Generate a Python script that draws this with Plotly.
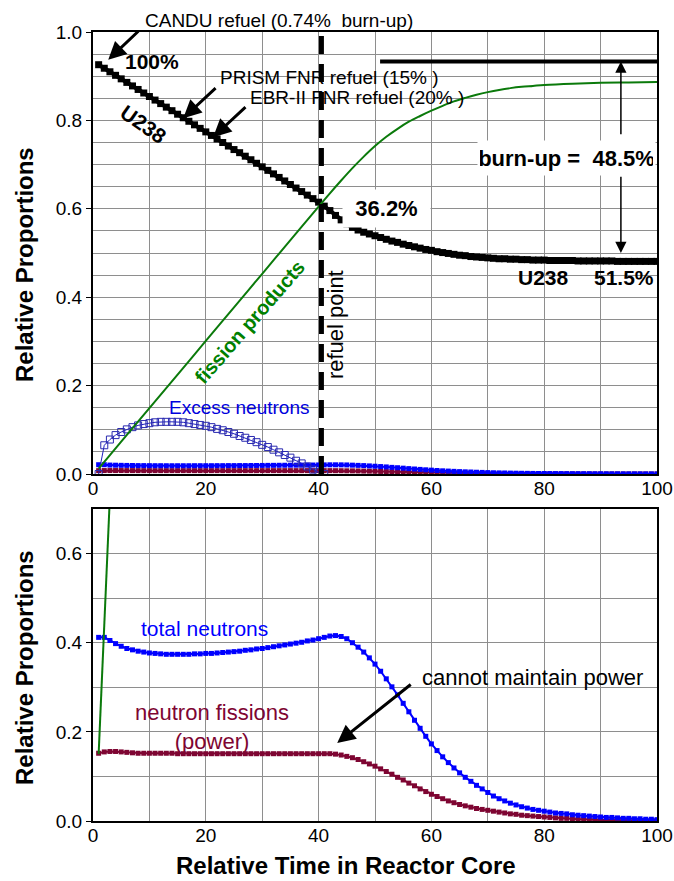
import plotly.graph_objects as go

# ---------------- data ----------------
t = list(range(1, 101))

u238 = [0.926, 0.918, 0.910, 0.902, 0.894, 0.886, 0.878, 0.870, 0.862, 0.854,
        0.846, 0.838, 0.830, 0.822, 0.814, 0.806, 0.798, 0.790, 0.782, 0.774,
        0.766, 0.758, 0.750, 0.742, 0.734, 0.727, 0.719, 0.711, 0.703, 0.695,
        0.687, 0.679, 0.671, 0.663, 0.655, 0.647, 0.639, 0.631, 0.623, 0.615,
        0.606, 0.596, 0.585, 0.575, 0.566, 0.558, 0.552, 0.547, 0.543, 0.539,
        0.535, 0.531, 0.527, 0.524, 0.520, 0.517, 0.514, 0.511, 0.508, 0.506,
        0.503, 0.501, 0.499, 0.497, 0.495, 0.494, 0.492, 0.491, 0.490, 0.489,
        0.488, 0.487, 0.487, 0.486, 0.486, 0.485, 0.485, 0.484, 0.484, 0.484,
        0.483, 0.483, 0.483, 0.483, 0.483, 0.482, 0.482, 0.482, 0.482, 0.482,
        0.482, 0.482, 0.481, 0.481, 0.481, 0.481, 0.481, 0.481, 0.481, 0.481]

fp_t = [1, 5, 10, 15, 20, 25, 30, 35, 40, 42, 44, 46, 48, 50, 52, 54, 56, 58,
        60, 62, 64, 66, 68, 70, 72, 74, 76, 78, 80, 85, 90, 95, 100]
fission_products = [0.012, 0.073, 0.149, 0.225, 0.301, 0.377, 0.453, 0.529,
                    0.605, 0.635, 0.664, 0.692, 0.718, 0.742, 0.763, 0.781,
                    0.797, 0.810, 0.822, 0.833, 0.843, 0.851, 0.858, 0.864,
                    0.869, 0.873, 0.876, 0.878, 0.880, 0.883, 0.885, 0.886,
                    0.887]

ex_t = list(range(1, 42))
excess_neutrons = [0.000, 0.065, 0.078, 0.088, 0.095, 0.101, 0.106, 0.110,
                   0.113, 0.115, 0.117, 0.118, 0.118, 0.118, 0.118, 0.117,
                   0.115, 0.113, 0.111, 0.109, 0.106, 0.102, 0.099, 0.095,
                   0.091, 0.086, 0.082, 0.077, 0.072, 0.066, 0.061, 0.055,
                   0.049, 0.043, 0.037, 0.030, 0.024, 0.017, 0.010, 0.004,
                   0.000]

neutrons_small = [0.0210, 0.0210, 0.0202, 0.0199, 0.0196, 0.0194, 0.0192, 0.0190, 0.0190, 0.0189,
                  0.0188, 0.0188, 0.0187, 0.0187, 0.0187, 0.0187, 0.0187, 0.0188, 0.0188, 0.0188,
                  0.0188, 0.0189, 0.0189, 0.0190, 0.0190, 0.0191, 0.0191, 0.0192, 0.0193, 0.0194,
                  0.0195, 0.0196, 0.0197, 0.0198, 0.0199, 0.0200, 0.0201, 0.0202, 0.0203, 0.0205,
                  0.0206, 0.0208, 0.0208, 0.0207, 0.0205, 0.0200, 0.0195, 0.0190, 0.0183, 0.0176,
                  0.0168, 0.0160, 0.0150, 0.0142, 0.0132, 0.0122, 0.0113, 0.0104, 0.0095, 0.0087,
                  0.0079, 0.0072, 0.0066, 0.0060, 0.0054, 0.0049, 0.0045, 0.0040, 0.0036, 0.0032,
                  0.0028, 0.0025, 0.0023, 0.0020, 0.0018, 0.0016, 0.0015, 0.0013, 0.0012, 0.0011,
                  0.0010, 0.0009, 0.0009, 0.0008, 0.0007, 0.0007, 0.0006, 0.0006, 0.0005, 0.0005,
                  0.0004, 0.0004, 0.0004, 0.0003, 0.0003, 0.0003, 0.0003, 0.0002, 0.0002, 0.0002]

fissions_small = [0.0076, 0.0078, 0.0078, 0.0078, 0.0078, 0.0077, 0.0077, 0.0076, 0.0076, 0.0076,
                  0.0076, 0.0076, 0.0076, 0.0076, 0.0076, 0.0076, 0.0076, 0.0076, 0.0076, 0.0076,
                  0.0076, 0.0076, 0.0076, 0.0076, 0.0076, 0.0076, 0.0076, 0.0076, 0.0076, 0.0076,
                  0.0076, 0.0076, 0.0076, 0.0076, 0.0076, 0.0076, 0.0076, 0.0076, 0.0076, 0.0076,
                  0.0076, 0.0076, 0.0075, 0.0074, 0.0072, 0.0071, 0.0069, 0.0066, 0.0064, 0.0061,
                  0.0058, 0.0055, 0.0052, 0.0049, 0.0046, 0.0042, 0.0039, 0.0036, 0.0033, 0.0030,
                  0.0027, 0.0025, 0.0022, 0.0020, 0.0018, 0.0017, 0.0015, 0.0014, 0.0013, 0.0012,
                  0.0011, 0.0010, 0.0009, 0.0008, 0.0007, 0.0007, 0.0006, 0.0005, 0.0005, 0.0004,
                  0.0004, 0.0003, 0.0003, 0.0003, 0.0002, 0.0002, 0.0002, 0.0002, 0.0001, 0.0001,
                  0.0001, 0.0001, 0.0001, 0.0001, 0.0001, 0.0001, 0.0001, 0.0001, 0.0001, 0.0001]

total_neutrons = [0.412, 0.412, 0.405, 0.398, 0.392, 0.387, 0.384, 0.381, 0.379, 0.377,
                  0.376, 0.375, 0.374, 0.374, 0.374, 0.374, 0.374, 0.375, 0.375, 0.376,
                  0.376, 0.377, 0.378, 0.379, 0.380, 0.381, 0.383, 0.384, 0.386, 0.387,
                  0.389, 0.391, 0.393, 0.395, 0.397, 0.399, 0.401, 0.404, 0.406, 0.409,
                  0.412, 0.415, 0.416, 0.414, 0.409, 0.400, 0.390, 0.379, 0.366, 0.352,
                  0.336, 0.319, 0.301, 0.283, 0.264, 0.245, 0.226, 0.208, 0.190, 0.173,
                  0.158, 0.144, 0.131, 0.119, 0.108, 0.098, 0.089, 0.080, 0.072, 0.064,
                  0.056, 0.050, 0.045, 0.040, 0.036, 0.032, 0.029, 0.026, 0.024, 0.022,
                  0.020, 0.018, 0.017, 0.016, 0.014, 0.013, 0.012, 0.011, 0.010, 0.009,
                  0.008, 0.008, 0.007, 0.006, 0.006, 0.005, 0.005, 0.004, 0.004, 0.003]

neutron_fissions = [0.152, 0.155, 0.156, 0.156, 0.155, 0.154, 0.153, 0.152, 0.152, 0.152,
                    0.152, 0.152, 0.152, 0.152, 0.151, 0.151, 0.151, 0.151, 0.151, 0.151,
                    0.151, 0.151, 0.151, 0.151, 0.151, 0.151, 0.151, 0.151, 0.151, 0.151,
                    0.151, 0.151, 0.151, 0.151, 0.151, 0.151, 0.151, 0.151, 0.151, 0.151,
                    0.151, 0.151, 0.150, 0.148, 0.145, 0.142, 0.138, 0.133, 0.128, 0.123,
                    0.117, 0.111, 0.105, 0.098, 0.092, 0.085, 0.079, 0.072, 0.066, 0.060,
                    0.055, 0.050, 0.045, 0.041, 0.037, 0.034, 0.031, 0.028, 0.026, 0.024,
                    0.022, 0.020, 0.018, 0.016, 0.015, 0.013, 0.012, 0.011, 0.010, 0.009,
                    0.008, 0.007, 0.006, 0.006, 0.005, 0.004, 0.004, 0.003, 0.003, 0.002,
                    0.002, 0.002, 0.002, 0.002, 0.001, 0.001, 0.001, 0.001, 0.001, 0.001]

fp_fast_t = [1, 2, 3]
fp_fast = [0.150, 0.430, 0.730]

refuel_point = 40.5
burnup_top = 0.933
burnup_bottom = 0.500

x_ticks = [0, 20, 40, 60, 80, 100]

# ---------------- styling ----------------
FONT = "Liberation Sans, Arial, sans-serif"
BLUE = "#0000ff"
MAROON = "#7e0532"
GREEN_LINE = "#0b7a0b"
GREEN_TEXT = "#008000"
GRID = "#8e8e8e"

W, H = 674, 881
px_left, px_right = 93, 657
top_y0, top_y1 = 474, 32
bot_y0, bot_y1 = 821, 509

xdom = [px_left / W, px_right / W]
top_dom = [1 - top_y0 / H, 1 - top_y1 / H]
bot_dom = [1 - bot_y0 / H, 1 - bot_y1 / H]

fig = go.Figure()

# top panel
fig.add_trace(go.Scatter(x=t, y=fissions_small, mode="lines+markers",
                         line=dict(color=MAROON, width=2),
                         marker=dict(symbol="square", size=5, color=MAROON),
                         xaxis="x", yaxis="y"))
fig.add_trace(go.Scatter(x=t, y=neutrons_small, mode="lines+markers",
                         line=dict(color=BLUE, width=2),
                         marker=dict(symbol="square", size=5, color=BLUE),
                         xaxis="x", yaxis="y"))
fig.add_trace(go.Scatter(x=ex_t, y=excess_neutrons, mode="lines+markers",
                         line=dict(color="#2020c0", width=1),
                         marker=dict(symbol="square-open", size=7, color="#2a2ab0",
                                     line=dict(width=1)),
                         xaxis="x", yaxis="y"))
fig.add_trace(go.Scatter(x=t, y=u238, mode="lines+markers",
                         line=dict(color="black", width=4),
                         marker=dict(symbol="square", size=7, color="black"),
                         xaxis="x", yaxis="y"))
fig.add_trace(go.Scatter(x=fp_t, y=fission_products, mode="lines",
                         line=dict(color=GREEN_LINE, width=2, shape="spline"),
                         xaxis="x", yaxis="y"))

# bottom panel
fig.add_trace(go.Scatter(x=t, y=neutron_fissions, mode="lines+markers",
                         line=dict(color=MAROON, width=2),
                         marker=dict(symbol="square", size=5, color=MAROON),
                         xaxis="x2", yaxis="y2"))
fig.add_trace(go.Scatter(x=t, y=total_neutrons, mode="lines+markers",
                         line=dict(color=BLUE, width=2),
                         marker=dict(symbol="square", size=5, color=BLUE),
                         xaxis="x2", yaxis="y2"))
fig.add_trace(go.Scatter(x=fp_fast_t, y=fp_fast, mode="lines",
                         line=dict(color=GREEN_LINE, width=2),
                         xaxis="x2", yaxis="y2"))

tickfont = dict(family=FONT, size=19, color="black")
common_x = dict(range=[0, 100], tickvals=x_ticks, ticks="", ticklabelstandoff=-4,
                showline=True, linecolor="black", linewidth=2,
                mirror=True, showgrid=True, gridcolor=GRID, gridwidth=1,
                minor=dict(dtick=10, showgrid=True, gridcolor=GRID, gridwidth=1),
                zeroline=False, tickfont=tickfont, automargin=False)
common_y = dict(tickformat=".1f", ticks="outside", ticklen=5, tickcolor="black",
                showline=True, linecolor="black", linewidth=2, mirror=True,
                showgrid=True, gridcolor=GRID, gridwidth=1,
                zeroline=False, tickfont=tickfont, automargin=False)

fig.update_layout(
    template="none",
    width=W, height=H,
    margin=dict(l=0, r=0, t=0, b=0, pad=0),
    paper_bgcolor="white", plot_bgcolor="white",
    showlegend=False,
    xaxis=dict(domain=xdom, anchor="y", **common_x),
    yaxis=dict(domain=top_dom, anchor="x", range=[0, 1], dtick=0.2,
               minor=dict(dtick=0.05, showgrid=True, gridcolor=GRID, gridwidth=1),
               **common_y),
    xaxis2=dict(domain=xdom, anchor="y2", **common_x),
    yaxis2=dict(domain=bot_dom, anchor="x2", range=[0, 0.7], dtick=0.2,
                minor=dict(dtick=0.1, showgrid=True, gridcolor=GRID, gridwidth=1),
                **common_y),
)

# refuel point and burn-up reference line
fig.add_shape(type="line", xref="x", yref="y", x0=refuel_point, x1=refuel_point,
              y0=0, y1=1, line=dict(color="black", width=5, dash="18px,10px"),
              layer="above")
fig.add_shape(type="line", xref="x", yref="y", x0=50.9, x1=100,
              y0=burnup_top, y1=burnup_top, line=dict(color="black", width=4),
              layer="above")

ann = []


def label(text, x, y, size, color="black", bold=False, ref=("x", "y"), **kw):
    if bold:
        text = "<b>" + text + "</b>"
    d = dict(text=text, x=x, y=y, xref=ref[0], yref=ref[1], showarrow=False,
             xanchor="center", yanchor="middle",
             font=dict(family=FONT, size=size, color=color))
    d.update(kw)
    ann.append(d)


def arrow(x, y, ax, ay, width=3, size=1.2, ref=("x", "y")):
    ann.append(dict(text="", x=x, y=y, ax=ax, ay=ay, xref=ref[0], yref=ref[1],
                    axref=ref[0], ayref=ref[1], showarrow=True, arrowhead=2,
                    arrowsize=size, arrowwidth=width, arrowcolor="black"))


# top panel labels
label("CANDU refuel (0.74%  burn-up)", 143 / W, 1 - 20 / H, 19,
      ref=("paper", "paper"), xanchor="left")
arrow(2.7, 0.937, 8.3, 1.005)
label("100%", 10.4, 0.934, 21, bold=True)
label("U238", 9.0, 0.79, 21, bold=True, textangle=35)
label("PRISM FNR refuel (15% )", 22.2, 0.896, 19, xanchor="left")
arrow(16.0, 0.805, 22.0, 0.876)
label("EBR-II FNR refuel (20% )", 27.5, 0.851, 19, xanchor="left")
arrow(21.3, 0.762, 27.3, 0.833)
label("36.2%", 51.95, 0.601, 22, bold=True, bgcolor="white", width=83,
      height=33, borderpad=2)
arrow(93.6, burnup_top, 93.6, 0.765, width=1.5, size=1.5)
arrow(93.6, burnup_bottom, 93.6, 0.676, width=1.5, size=1.5)
label("burn-up =  48.5%", 83.9, 0.715, 22, bold=True, bgcolor="white",
      width=173, height=30, borderpad=2)
label("U238", 79.8, 0.445, 21, bold=True)
label("51.5%", 94.1, 0.445, 21, bold=True)
label("fission products", 27.8, 0.344, 20, color=GREEN_TEXT, bold=True,
      textangle=-49)
label("refuel point", 42.9, 0.339, 22, textangle=-90)
label("Excess neutrons", 25.9, 0.150, 19, color="#0000dd")

# bottom panel labels
label("total neutrons", 19.8, 0.432, 21, color=BLUE, ref=("x2", "y2"))
label("neutron fissions<br>(power)", 21.1, 0.210, 22, color=MAROON,
      ref=("x2", "y2"))
label("cannot maintain power", 77.9, 0.323, 22, ref=("x2", "y2"))
arrow(43.3, 0.175, 56.6, 0.309, ref=("x2", "y2"))

# axis titles
label("Relative Proportions", 24 / W, 1 - 265 / H, 24, bold=True,
      ref=("paper", "paper"), textangle=-90)
label("Relative Proportions", 24 / W, 1 - 668 / H, 24, bold=True,
      ref=("paper", "paper"), textangle=-90)
label("Relative Time in Reactor Core", 346 / W, 1 - 865 / H, 24, bold=True,
      ref=("paper", "paper"))

fig.update_layout(annotations=ann)

fig.write_html("out.html")
